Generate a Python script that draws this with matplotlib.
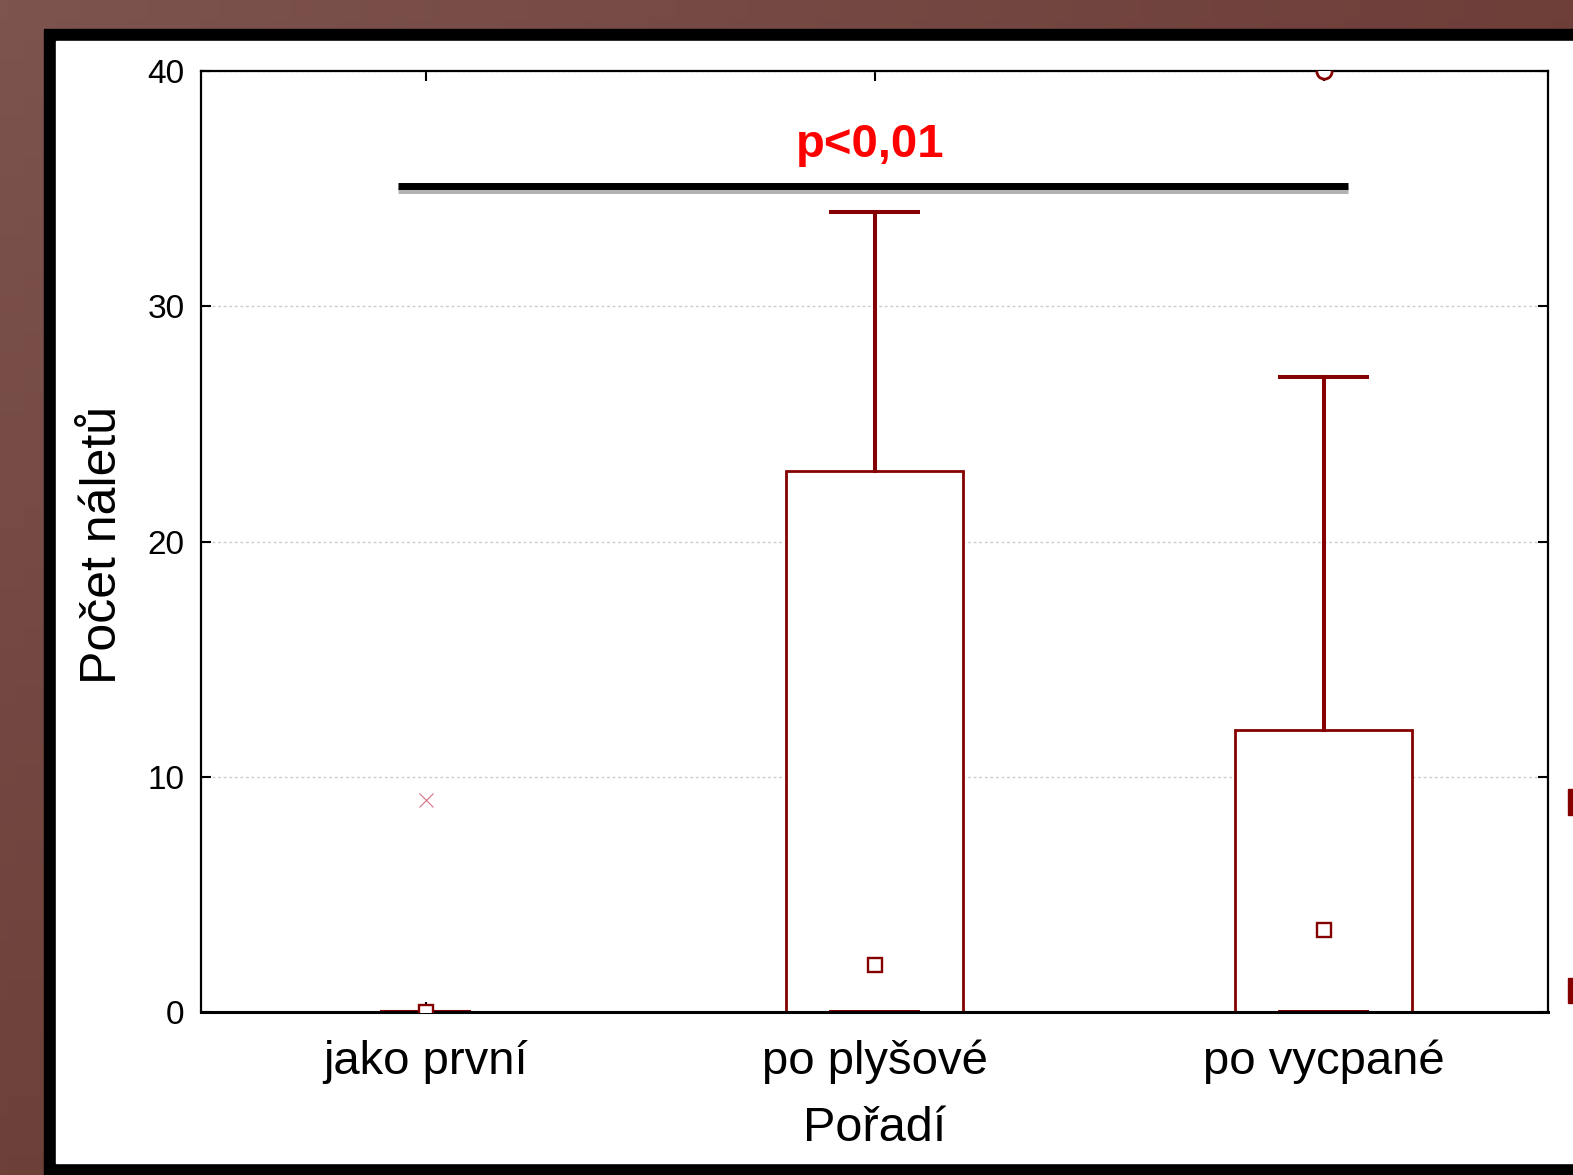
import numpy as np
import matplotlib
matplotlib.use("Agg")
import matplotlib.pyplot as plt
import matplotlib.patheffects as pe
from matplotlib.patches import Rectangle, Patch

# Box plot values (Statistica style: median, 25-75 %, min-max)
groups = ["jako první", "po plyšové", "po vycpané"]
medians = [0, 2, 3.5]
q1 = [0, 0, 0]
q3 = [0, 23, 12]
whisker_lo = [0, 0, 0]
whisker_hi = [0, 34, 27]
outliers = [[], [], [40]]
extremes = [[9], [], []]

y_ticks = [0, 10, 20, 30, 40]
sig_text = "p<0,01"
sig_y = 35.1
sig_span = (-0.062, 2.054)

RED = "#850000"
plt.rcParams["font.family"] = ["Liberation Sans", "DejaVu Sans"]

fig = plt.figure(figsize=(15.73, 11.75), dpi=100)

# slide background: brown gradient, black frame, white panel
bg = fig.add_axes([0, 0, 1, 1], zorder=-10)
tl, tr = np.array([125, 84, 78]), np.array([110, 62, 57])
bl, br = np.array([110, 64, 58]), np.array([100, 52, 48])
u = np.linspace(0, 1, 200)[None, :, None]
v = np.linspace(0, 1, 60)[:, None, None]
grad = ((1 - v) * ((1 - u) * tl + u * tr) + v * ((1 - u) * bl + u * br)) / 255
bg.imshow(grad, extent=[0, 1, 0, 1], aspect="auto", origin="upper")
bg.add_patch(Rectangle((44 / 1573, -0.1), 1.2, 1.1 - 29 / 1175, color="black"))
bg.add_patch(Rectangle((56 / 1573, 12 / 1175), 1.2, 1 - 53 / 1175, color="white"))
bg.set_xlim(0, 1)
bg.set_ylim(0, 1)
bg.axis("off")

ax = fig.add_axes([201 / 1573, 1 - 1012 / 1175, 1347 / 1573, 941 / 1175])
ax.set_facecolor("none")

pos = np.arange(len(groups))
stats = [dict(med=m, q1=a, q3=b, whislo=lo, whishi=hi, fliers=[])
         for m, a, b, lo, hi in zip(medians, q1, q3, whisker_lo, whisker_hi)]
ax.bxp(stats, positions=pos, widths=0.395, capwidths=0.194, showfliers=False,
       patch_artist=True,
       boxprops=dict(facecolor="white", edgecolor=RED, linewidth=2.0),
       whiskerprops=dict(color=RED, linewidth=2.9),
       capprops=dict(color=RED, linewidth=2.9),
       medianprops=dict(linestyle="none"))

ax.plot(pos, medians, linestyle="none", marker="s", ms=10.5, mfc="white",
        mec=RED, mew=1.7, zorder=4)
for x, vals in zip(pos, outliers):
    ax.plot([x] * len(vals), vals, linestyle="none", marker="o", ms=11,
            mfc="white", mec=RED, mew=2, zorder=4)
for x, vals in zip(pos, extremes):
    ax.plot([x] * len(vals), vals, linestyle="none", marker="x", ms=10,
            color="#c85068", mew=0.8, alpha=0.8, zorder=4)

# significance bar
ax.plot(sig_span, [sig_y, sig_y], color="black", lw=5, solid_capstyle="butt",
        path_effects=[pe.SimpleLineShadow(offset=(0, -2.5), shadow_color="gray", alpha=0.6),
                      pe.Normal()], zorder=5)
ax.text(np.mean(pos[[0, -1]]) - 0.01, 36.85, sig_text, color="red", fontsize=34,
        fontweight="bold", ha="center", va="center")

ax.set_xlim(-0.5, 2.5)
ax.set_ylim(0, 40)
ax.set_xticks(pos)
ax.set_xticklabels(groups)
ax.set_yticks(y_ticks)
ax.yaxis.grid(True, linestyle=(0, (2, 2)), color="#cccccc", linewidth=1)
ax.set_axisbelow(True)
ax.tick_params(axis="both", direction="in", length=7, width=1.5,
               top=True, right=True, colors="black")
ax.tick_params(axis="x", labelsize=34, pad=20)
ax.tick_params(axis="y", labelsize=24, pad=12)
for s in ax.spines.values():
    s.set_linewidth(1.6)
ax.spines["bottom"].set_linewidth(2.2)

ax.set_xlabel("Pořadí", fontsize=35)
ax.set_ylabel("Počet náletů", fontsize=36)
ax.xaxis.set_label_coords(0.5, -0.1)
ax.yaxis.set_label_coords(-0.056, 0.496)

# legend of the original slide, cut off at the right edge (only handles show)
fig.legend(handles=[Patch(fc=RED, ec=RED), Patch(fc=RED, ec=RED)],
           labels=["", ""], loc="upper left",
           bbox_to_anchor=(1568 / 1573, 1 - 789 / 1175), frameon=False,
           borderpad=0, borderaxespad=0, fontsize=18, handlelength=2,
           handleheight=1.2, labelspacing=6.5)

fig.savefig("out.png", dpi=100)
